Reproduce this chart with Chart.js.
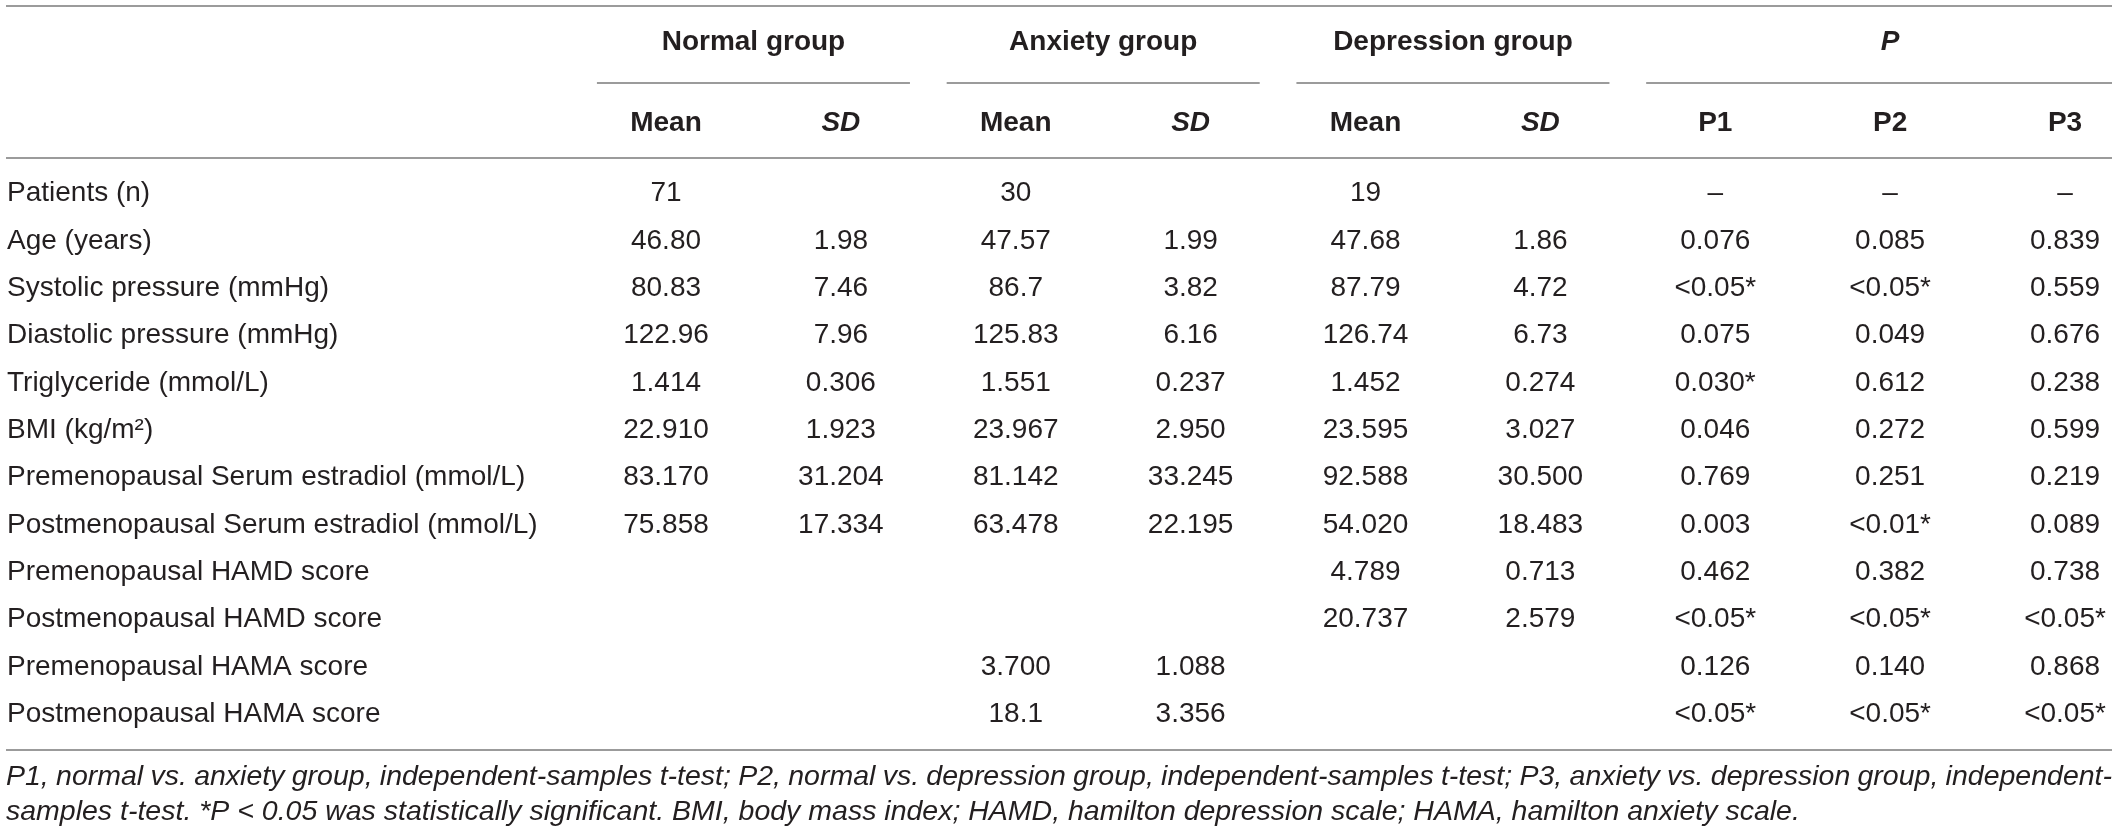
<!DOCTYPE html>
<html>
<head>
<meta charset="utf-8">
<script src="https://cdn.jsdelivr.net/npm/chart.js@4.4.0/dist/chart.umd.min.js"></script>
<style>
  html, body { margin: 0; padding: 0; background: #fff; }
  #wrap { width: 2118px; height: 836px; }
</style>
</head>
<body>
<div id="wrap"><canvas id="statsTable"></canvas></div>
<script>
const rowLabels = [
    'Patients (n)',
    'Age (years)',
    'Systolic pressure (mmHg)',
    'Diastolic pressure (mmHg)',
    'Triglyceride (mmol/L)',
    'BMI (kg/m\u00b2)',
    'Premenopausal Serum estradiol (mmol/L)',
    'Postmenopausal Serum estradiol (mmol/L)',
    'Premenopausal HAMD score',
    'Postmenopausal HAMD score',
    'Premenopausal HAMA score',
    'Postmenopausal HAMA score'
];
const colKeys = ['normalMean', 'normalSD', 'anxietyMean', 'anxietySD', 'depressionMean', 'depressionSD', 'p1', 'p2', 'p3'];
const colLabels = ['Mean', 'SD', 'Mean', 'SD', 'Mean', 'SD', 'P1', 'P2', 'P3'];
const groupLabels = ['Normal group', 'Anxiety group', 'Depression group', 'P'];
const groupSpans = [[0, 1], [2, 3], [4, 5], [6, 8]];

const normalMean = ['71', '46.80', '80.83', '122.96', '1.414', '22.910', '83.170', '75.858', '', '', '', ''];
const normalSD = ['', '1.98', '7.46', '7.96', '0.306', '1.923', '31.204', '17.334', '', '', '', ''];
const anxietyMean = ['30', '47.57', '86.7', '125.83', '1.551', '23.967', '81.142', '63.478', '', '', '3.700', '18.1'];
const anxietySD = ['', '1.99', '3.82', '6.16', '0.237', '2.950', '33.245', '22.195', '', '', '1.088', '3.356'];
const depressionMean = ['19', '47.68', '87.79', '126.74', '1.452', '23.595', '92.588', '54.020', '4.789', '20.737', '', ''];
const depressionSD = ['', '1.86', '4.72', '6.73', '0.274', '3.027', '30.500', '18.483', '0.713', '2.579', '', ''];
const p1 = ['\u2013', '0.076', '<0.05*', '0.075', '0.030*', '0.046', '0.769', '0.003', '0.462', '<0.05*', '0.126', '<0.05*'];
const p2 = ['\u2013', '0.085', '<0.05*', '0.049', '0.612', '0.272', '0.251', '<0.01*', '0.382', '<0.05*', '0.140', '<0.05*'];
const p3 = ['\u2013', '0.839', '0.559', '0.676', '0.238', '0.599', '0.219', '0.089', '0.738', '<0.05*', '0.868', '<0.05*'];

const footnoteLines = [
    'P1, normal vs. anxiety group, independent-samples t-test; P2, normal vs. depression group, independent-samples t-test; P3, anxiety vs. depression group, independent-',
    'samples t-test. *P < 0.05 was statistically significant. BMI, body mass index; HAMD, hamilton depression scale; HAMA, hamilton anxiety scale.'
];

const columns = [normalMean, normalSD, anxietyMean, anxietySD, depressionMean, depressionSD, p1, p2, p3];

const FONT = '"Liberation Sans", Arial, Helvetica, sans-serif';
const INK = '#231f20';
const RULE = '#9b9b9b';
const RULE_LEFT = 6;
const RULE_RIGHT = 2112;

// every cell is a (column, row) point; the text is painted where the scales put it
const datasets = columns.map((values, c) => ({
    label: colKeys[c],
    data: values.map((v, r) => ({ x: colKeys[c], y: rowLabels[r] })),
    pointRadius: 0,
    pointHoverRadius: 0,
    showLine: false
}));

function hRule(ctx, y, x0, x1) {
    ctx.beginPath();
    ctx.moveTo(x0, y);
    ctx.lineTo(x1, y);
    ctx.stroke();
}

const tablePlugin = {
    id: 'tablePlugin',
    afterDatasetsDraw(chart) {
        const { ctx, chartArea } = chart;
        const x = chart.scales.x;
        const top = chartArea.top;
        const bottom = chartArea.bottom;
        const half = (x.getPixelForValue(1) - x.getPixelForValue(0)) / 2;

        ctx.save();
        ctx.fillStyle = INK;
        ctx.textAlign = 'center';
        ctx.textBaseline = 'middle';
        ctx.font = `28px ${FONT}`;
        chart.data.datasets.forEach((ds, c) => {
            chart.getDatasetMeta(c).data.forEach((pt, r) => {
                const text = columns[c][r];
                if (text) ctx.fillText(text, pt.x, pt.y);
            });
        });

        // group headers and their underlines
        ctx.strokeStyle = RULE;
        ctx.lineWidth = 2;
        groupSpans.forEach(([a, b], g) => {
            const xa = x.getPixelForValue(a);
            const xb = x.getPixelForValue(b);
            ctx.font = (groupLabels[g] === 'P' ? 'italic ' : '') + `bold 28px ${FONT}`;
            ctx.fillText(groupLabels[g], (xa + xb) / 2, top - 128);
            hRule(ctx, top - 87, xa - half * 0.79, Math.min(xb + half * 0.79, RULE_RIGHT));
        });

        hRule(ctx, top - 164, RULE_LEFT, RULE_RIGHT);
        hRule(ctx, top - 12, RULE_LEFT, RULE_RIGHT);
        hRule(ctx, bottom + 12, RULE_LEFT, RULE_RIGHT);

        // footnote, first line justified
        ctx.font = `italic 28.5px ${FONT}`;
        ctx.textAlign = 'left';
        const words = footnoteLines[0].split(' ');
        const widths = words.map(w => ctx.measureText(w).width);
        const gap = (RULE_RIGHT - RULE_LEFT - widths.reduce((s, w) => s + w, 0)) / (words.length - 1);
        let cx = RULE_LEFT;
        words.forEach((w, i) => {
            ctx.fillText(w, cx, bottom + 39);
            cx += widths[i] + gap;
        });
        ctx.fillText(footnoteLines[1], RULE_LEFT, bottom + 74);
        ctx.restore();
    }
};

const configChart = {
    type: 'scatter',
    data: { datasets: datasets },
    options: {
        responsive: true,
        maintainAspectRatio: false,
        animation: false,
        events: [],
        layout: { padding: { left: 7, right: 53, top: 0, bottom: 98 } },
        plugins: {
            legend: { display: false },
            tooltip: { enabled: false }
        },
        scales: {
            x: {
                type: 'category',
                position: 'top',
                labels: colKeys,
                offset: false,
                grid: { display: false, drawTicks: false },
                border: { display: false },
                ticks: {
                    autoSkip: false,
                    maxRotation: 0,
                    padding: 30,
                    color: INK,
                    font: (ctx) => ({
                        family: FONT,
                        size: 28,
                        weight: 'bold',
                        style: colLabels[ctx.index] === 'SD' ? 'italic' : 'normal'
                    }),
                    callback: (value, index) => colLabels[index]
                },
                afterFit: (scale) => { scale.height = 170; }
            },
            y: {
                type: 'category',
                labels: rowLabels,
                offset: true,
                grid: { display: false, drawTicks: false },
                border: { display: false },
                ticks: {
                    autoSkip: false,
                    crossAlign: 'far',
                    padding: 0,
                    color: INK,
                    font: { family: FONT, size: 28 }
                },
                afterFit: (scale) => { scale.width = 659; }
            }
        }
    },
    plugins: [tablePlugin]
};

let chart = new Chart(document.getElementById('statsTable'), configChart);
</script>
</body>
</html>
